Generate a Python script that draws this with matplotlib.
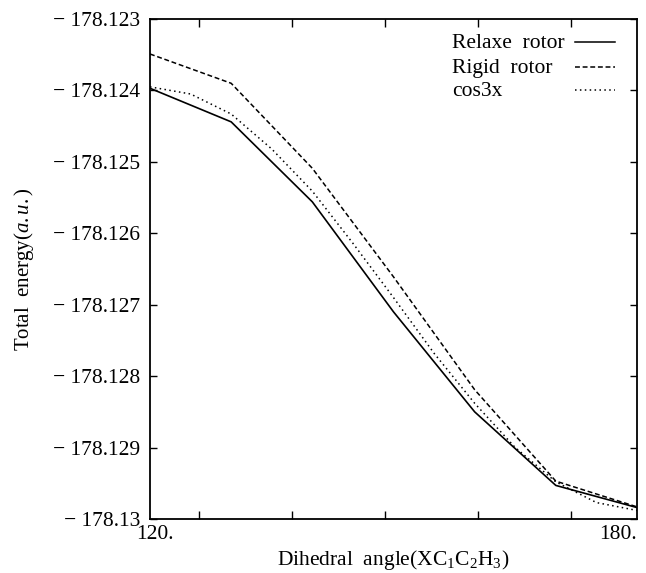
import numpy as np
import matplotlib
matplotlib.use("Agg")
import matplotlib.pyplot as plt
from matplotlib.lines import Line2D
import matplotlib.transforms as mtransforms

plt.rcParams['font.family'] = ['Liberation Serif', 'DejaVu Serif']
plt.rcParams['mathtext.fontset'] = 'custom'
plt.rcParams['mathtext.rm'] = 'Liberation Serif'
plt.rcParams['mathtext.it'] = 'Liberation Serif:italic'
plt.rcParams['mathtext.bf'] = 'Liberation Serif:bold'

# ---- data ----
angle = [120, 130, 140, 150, 160, 170, 180]
relaxed = [-178.12397, -178.12444, -178.12556, -178.12710, -178.12850, -178.12953, -178.12984]
rigid = [-178.12349, -178.12390, -178.12509, -178.12661, -178.12819, -178.12947, -178.12983]
cos_angle = [120, 125, 130, 135, 140, 145, 150, 155, 160, 165, 170, 175, 180]
cos3x = [-178.12395, -178.12405, -178.12433, -178.12482, -178.12541, -178.12614,
         -178.12690, -178.12768, -178.12838, -178.12900, -178.12948, -178.12977, -178.12988]
minor_tick_rad = [2.2, 2.4, 2.6, 2.8, 3.0]
y_ticks = [-178.123, -178.124, -178.125, -178.126, -178.127, -178.128, -178.129, -178.130]
y_labels = ["\u2212 178.123", "\u2212 178.124", "\u2212 178.125", "\u2212 178.126",
            "\u2212 178.127", "\u2212 178.128", "\u2212 178.129", "\u2212 178.13"]
x_ticks = [120, 180]
x_labels = ["120.", "180."]
legend_labels = ["Relaxe  rotor", "Rigid  rotor", "cos3x"]

fig = plt.figure(figsize=(6.46, 5.73), dpi=100)
ax = fig.add_axes([150/646, 1-519/573, 487/646, 500/573])

dash_style = (0, (3.2, 1.8))
dot_style = (0, (1.0, 2.2))
ax.plot(angle, relaxed, color='black', lw=1.2, ls='-')
ax.plot(angle, rigid, color='black', lw=1.1, ls=dash_style)
ax.plot(cos_angle, cos3x, color='black', lw=1.1, ls=dot_style)

ax.set_xlim(120, 180)
ax.set_ylim(-178.130, -178.123)

ax.set_yticks(y_ticks)
ax.set_yticklabels(y_labels)
ax.set_xticks(x_ticks)
ax.set_xticklabels(x_labels)
ax.set_xticks(np.degrees(minor_tick_rad), minor=True)

ax.tick_params(axis='both', which='both', direction='in', top=True, right=True,
               labelsize=15.5, width=1.0)
ax.tick_params(axis='x', which='major', length=0, pad=4)
ax.tick_params(axis='x', which='minor', length=6)
ax.tick_params(axis='y', which='major', length=5, pad=7)
labs = ax.get_xticklabels()
labs[0].set_transform(labs[0].get_transform() +
                      mtransforms.ScaledTranslation(5/100, 0, fig.dpi_scale_trans))
labs[1].set_ha('right')

for s in ax.spines.values():
    s.set_linewidth(1.3)

ax.set_xlabel(r"Dihedral  angle(XC$_1$C$_2$H$_3$)", fontsize=15.5, labelpad=3)
ax.set_ylabel(r"Total  energy($\mathit{a.u.}$)", fontsize=15, labelpad=12)

# legend: text left-aligned, samples on the right
styles = ['-', dash_style, dot_style]
base_y = [0.942, 0.892, 0.846]
for lab, st, by in zip(legend_labels, styles, base_y):
    ax.text(0.620, by, lab, transform=ax.transAxes, fontsize=15.5, va='baseline', ha='left')
    ax.add_line(Line2D([0.872, 0.955], [by + 0.012, by + 0.012], transform=ax.transAxes,
                       color='black', lw=1.1, ls=st))

fig.savefig("out.png", dpi=100)
